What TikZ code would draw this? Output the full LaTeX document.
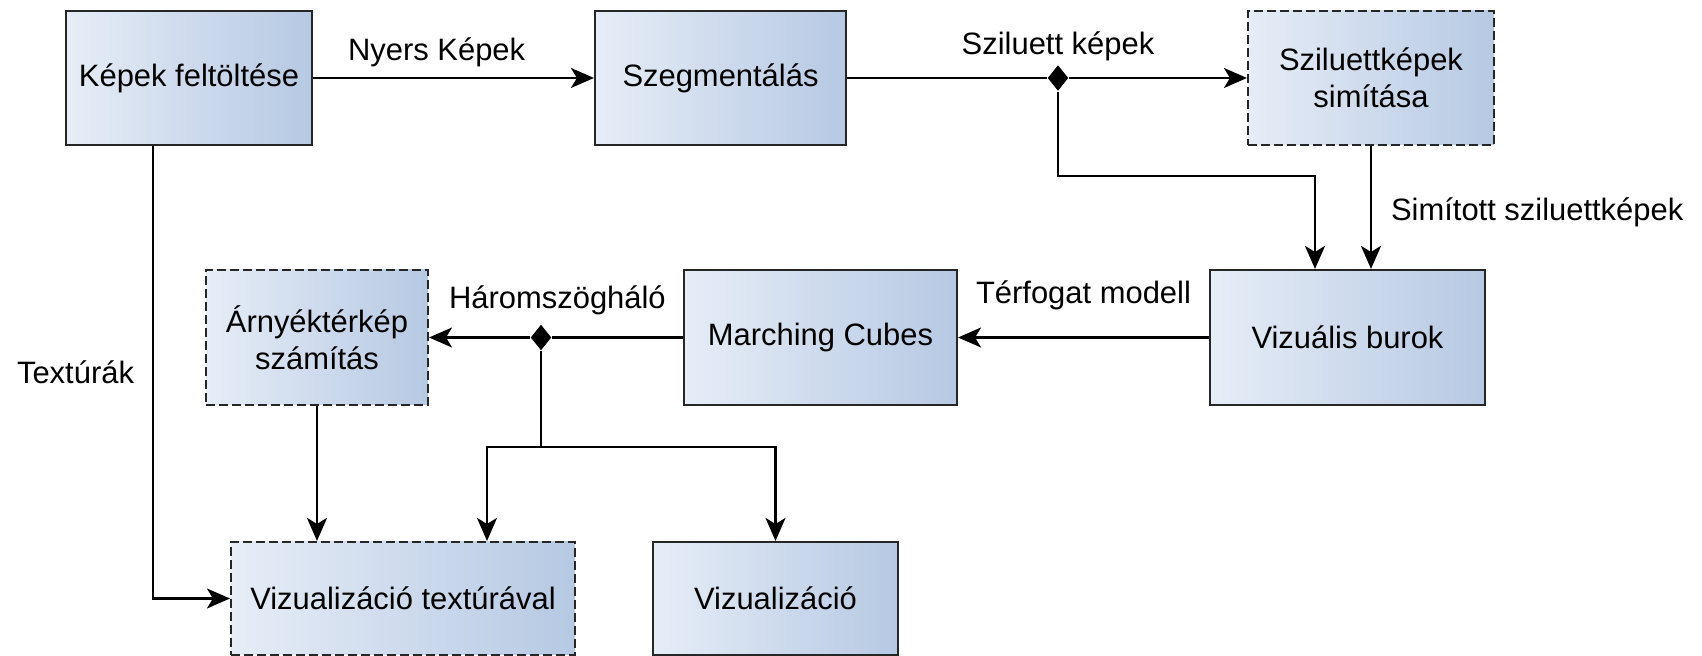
\documentclass[tikz,border=0pt]{standalone}
\usepackage{fontspec}
\setmainfont{Liberation Sans}
\usetikzlibrary{shapes.geometric, arrows.meta, positioning, calc}

\definecolor{boxleft}{HTML}{E6EDF7}
\definecolor{boxright}{HTML}{B6C9E3}

\begin{document}
\begin{tikzpicture}[
  font=\fontsize{8.8}{10.6}\selectfont,
  block/.style={rectangle, draw=black!85, line width=0.6pt, left color=boxleft, right color=boxright, align=center, minimum width=2.46cm, minimum height=1.34cm, inner sep=0pt},
  optblock/.style={block, dash pattern=on 2.5pt off 1.2pt},
  junction/.style={diamond, fill=black, inner sep=0pt, minimum width=0.21cm, minimum height=0.26cm},
  lbl/.style={inner sep=0pt},
  line/.style={line width=0.6pt},
  arrow/.style={line width=0.6pt, -{Stealth[length=2.3mm, width=2mm, inset=0.6mm]}}]

\useasboundingbox (0,0) rectangle (17.02,-6.56);

\node[block] (load) at (1.89,-0.78) {Képek feltöltése};
\node[block, minimum width=2.51cm] (seg) at (7.205,-0.78) {Szegmentálás};
\node[optblock] (smooth) at (13.71,-0.78) {Sziluettképek\\simítása};
\node[block, minimum width=2.75cm, minimum height=1.35cm] (hull) at (13.475,-3.375) {Vizuális burok};
\node[block, minimum width=2.73cm, minimum height=1.35cm] (mc) at (8.205,-3.375) {Marching Cubes};
\node[optblock, minimum width=2.22cm, minimum height=1.35cm] (shadow) at (3.17,-3.375) {Árnyéktérkép\\számítás};
\node[optblock, minimum width=3.44cm, minimum height=1.13cm] (vistex) at (4.03,-5.985) {Vizualizáció textúrával};
\node[block, minimum width=2.45cm, minimum height=1.13cm] (vis) at (7.755,-5.985) {Vizualizáció};

% elagazasok
\node[junction, label={[lbl, label distance=0.3mm]above:Sziluett képek}] (split1) at (10.58,-0.78) {};
\node[junction] (split2) at (5.41,-3.375) {};
\coordinate (fork) at (5.41,-4.47);
\coordinate (tex) at (1.53,-5.985);

\draw[arrow] (load) -- node[lbl, above=1mm, pos=0.44] {Nyers Képek} (seg);
\draw[line] (seg) -- (split1);
\draw[arrow] (split1) -- (smooth);
\draw[arrow] (split1.south) -- ++(0,-0.84) -| ($(hull.north)+(-0.325,0)$);
\draw[arrow] (smooth) -- node[lbl, right=1.9mm, pos=0.54] {Simított sziluettképek} (smooth.south |- hull.north);

\draw[arrow] (hull) -- node[lbl, above=2.7mm] {Térfogat modell} (mc);
\draw[line] (mc) -- node[lbl, above=2.2mm, pos=0.96] {Háromszögháló} (split2);
\draw[arrow] (split2) -- (shadow);
\draw[line] (split2) -- (fork);
\draw[arrow] (fork) -| ($(vistex.north)+(0.84,0)$);
\draw[arrow] (fork) -| (vis.north);
\draw[arrow] (shadow) -- (shadow.south |- vistex.north);
\draw[arrow] (load.south -| tex) |- node[lbl, left=1.8mm, pos=0.25] {Textúrák} (vistex.west);

\end{tikzpicture}
\end{document}
